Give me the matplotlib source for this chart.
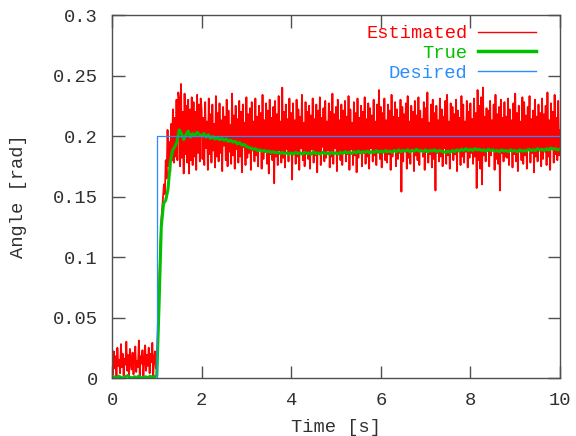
import numpy as np
import matplotlib
matplotlib.use("Agg")
import matplotlib.pyplot as plt

# ---------------- data ----------------
est_dt = 0.02   # s, sample spacing of the estimated series
true_dt = 0.05  # s, sample spacing of the true series

# Estimated angle, in milli-rad
estimated_mrad = [
    # 0.00 - 0.98
    12, 3, 22, 8, 18, 0, 25, 10, 15, 4, 28, 9, 20, 2, 16, 11, 30, 6, 19, 0,
    24, 13, 7, 21, 3, 17, 26, 5, 14, 9, 31, 2, 18, 12, 23, 0, 15, 27, 6, 19,
    10, 25, 4, 20, 13, 29, 1, 16, 22, 8,
    # 1.00 - 1.48
    10, 30, 60, 85, 110, 130, 140, 150, 160, 152, 180, 165, 205, 175, 195, 170,
    210, 180, 222, 178, 215, 183, 230, 180, 236,
    # 1.50 - 1.98
    230, 175, 243, 182, 220, 169, 235, 185, 225, 178, 230, 169, 222, 180, 232,
    176, 228, 183, 220, 172, 234, 186, 226, 179, 231,
    # 2.00 - 9.98
    222, 181, 215, 176, 228, 190, 212, 172, 231, 185, 218, 178, 226, 188, 210, 174, 233, 183, 219, 179,
    227, 186, 213, 171, 224, 192, 216, 180, 230, 175, 221, 187, 209, 177, 235, 184, 217, 173, 225, 189,
    214, 178, 229, 183, 220, 170, 226, 191, 211, 176, 232, 182, 218, 186, 223, 172, 228, 188, 212, 179,
    231, 184, 216, 175, 225, 190, 219, 173, 234, 181, 213, 187, 227, 177, 221, 169, 230, 185, 215, 180,
    224, 161, 229, 183, 218, 176, 233, 188, 212, 178, 240, 182, 220, 174, 226, 189, 214, 179, 231, 185,
    219, 164, 227, 186, 213, 177, 230, 183, 222, 172, 216, 190, 234, 180, 211, 175, 228, 187, 220, 181,
    225, 173, 217, 189, 231, 178, 214, 184, 226, 170, 221, 186, 232, 176, 215, 191, 223, 179, 229, 182,
    212, 188, 227, 174, 220, 183, 235, 177, 218, 190, 224, 171, 230, 185, 213, 180, 226, 176, 221, 187,
    229, 179, 216, 185, 233, 172, 222, 189, 211, 176, 228, 184, 219, 170, 231, 182, 215, 188, 225, 175,
    220, 186, 232, 177, 214, 183, 227, 173, 223, 190, 217, 179, 230, 184, 212, 176, 226, 188, 238, 181,
    224, 174, 219, 187, 231, 180, 213, 178, 226, 185, 221, 172, 234, 183, 216, 189, 228, 175, 222, 181,
    215, 186, 230, 154, 224, 179, 218, 188, 227, 173, 233, 182, 212, 177, 225, 190, 220, 171, 229, 184,
    217, 180, 232, 176, 221, 189, 214, 183, 228, 172, 223, 187, 236, 178, 211, 185, 226, 174, 230, 181,
    219, 155, 225, 186, 213, 179, 231, 183, 222, 175, 216, 190, 229, 177, 234, 184, 212, 173, 227, 188,
    224, 180, 218, 185, 230, 171, 221, 189, 215, 176, 233, 183, 226, 178, 212, 187, 229, 174, 220, 182,
    227, 186, 214, 177, 231, 183, 219, 157, 238, 180, 225, 173, 232, 160, 240, 184, 216, 179, 223, 188,
    221, 175, 229, 184, 213, 189, 226, 172, 234, 181, 218, 177, 224, 155, 230, 186, 215, 179, 228, 183,
    216, 182, 231, 176, 222, 188, 213, 174, 227, 185, 235, 179, 219, 171, 225, 187, 212, 180, 232, 177,
    228, 184, 217, 173, 224, 190, 233, 178, 214, 186, 221, 170, 230, 183, 216, 179, 226, 188, 219, 175,
    231, 181, 218, 187, 225, 176, 236, 183, 213, 172, 227, 189, 220, 178, 234, 185, 215, 180, 229, 184,
    # 10.00
    205,
]

# True angle, in 1e-4 rad
true_e4 = [
    5, 10, 0, 15, 5, 0, 10, 20, 5, 0, 10, 5, 15, 0, 5, 10, 0, 15, 5, 10,
    20, 600, 1250, 1440, 1470, 1560, 1780, 1880, 1910, 1950, 2050, 2020, 1970, 2010, 2040, 1990, 2020, 2000, 2030, 2010,
    2000, 2020, 1990, 2010, 1980, 1995, 1975, 1985, 1970, 1980, 1965, 1975, 1955, 1965, 1950, 1955, 1935, 1945, 1925, 1930,
    1915, 1905, 1900, 1890, 1895, 1880, 1885, 1875, 1880, 1870, 1875, 1865, 1870, 1860, 1865, 1855, 1865, 1855, 1860, 1850,
    1860, 1850, 1865, 1855, 1860, 1850, 1865, 1855, 1860, 1850, 1870, 1855, 1860, 1850, 1865, 1855, 1860, 1850, 1865, 1855,
    1860, 1850, 1865, 1855, 1870, 1860, 1865, 1855, 1870, 1860, 1875, 1860, 1870, 1865, 1875, 1860, 1870, 1865, 1880, 1865,
    1875, 1865, 1880, 1870, 1875, 1865, 1880, 1870, 1885, 1870, 1880, 1875, 1885, 1870, 1880, 1875, 1890, 1875, 1880, 1870,
    1885, 1870, 1880, 1875, 1885, 1870, 1880, 1875, 1870, 1865, 1875, 1865, 1880, 1870, 1885, 1875, 1890, 1880, 1895, 1880,
    1890, 1880, 1895, 1885, 1890, 1880, 1885, 1875, 1890, 1880, 1885, 1875, 1880, 1870, 1885, 1875, 1880, 1870, 1885, 1875,
    1880, 1870, 1885, 1875, 1880, 1875, 1890, 1880, 1885, 1880, 1895, 1885, 1890, 1880, 1895, 1885, 1900, 1890, 1895, 1885,
    1890,
]

# Desired angle: step at t = 1 s
desired_t = [0.0, 1.0, 10.0]
desired_v = [0.0, 0.2, 0.2]

series_labels = ["Estimated", "True", "Desired"]
x_ticks = [0, 2, 4, 6, 8, 10]
y_ticks = [0, 0.05, 0.1, 0.15, 0.2, 0.25, 0.3]
y_tick_labels = ["0", "0.05", "0.1", "0.15", "0.2", "0.25", "0.3"]

# ---------------- plot ----------------
plt.rcParams['font.family'] = ['Liberation Mono', 'DejaVu Sans Mono']
FS = 13.5
TXT = '#303030'

est = np.array(estimated_mrad) / 1000.0
t_est = np.arange(len(est)) * est_dt
tru = np.array(true_e4) / 10000.0
t_true = np.arange(len(tru)) * true_dt

fig = plt.figure(figsize=(5.76, 4.36), dpi=100)
ax = fig.add_axes([112 / 576, 58 / 436, 448 / 576, 363 / 436])

RED = '#ff0000'
GREEN = '#00c000'
BLUE = '#2a8cff'

ax.plot(t_est, est, color=RED, lw=1.3, label=series_labels[0])
ax.plot(t_true, tru, color=GREEN, lw=2.2, label=series_labels[1])
ax.plot(desired_t, desired_v, color=BLUE, lw=0.9, drawstyle='steps-post',
        label=series_labels[2])

ax.set_xlim(0, 10)
ax.set_ylim(0, 0.3)
ax.set_xticks(x_ticks)
ax.set_xticklabels([str(v) for v in x_ticks])
ax.set_yticks(y_ticks)
ax.set_yticklabels(y_tick_labels)

frame = '#505050'
for s in ax.spines.values():
    s.set_color(frame)
    s.set_linewidth(1.0)
ax.tick_params(direction='in', length=9, width=1.0, color=frame,
               top=True, right=True, labelsize=FS, labelcolor=TXT, pad=10)
ax.tick_params(axis='y', pad=10)

ax.set_xlabel("Time [s]", fontsize=FS, color=TXT, va='center')
ax.xaxis.set_label_coords(0.5, (378 - 427) / 363)
ax.set_ylabel("Angle [rad]", fontsize=FS, color=TXT, va='center')
ax.yaxis.set_label_coords((19 - 112) / 448, 0.5)

leg = ax.legend(loc='upper right', bbox_to_anchor=((536 - 112) / 448, (378 - 25) / 363),
                frameon=False, markerfirst=False, fontsize=FS, labelcolor='linecolor',
                handlelength=3.1, handletextpad=0.55, labelspacing=0.14,
                borderpad=0, borderaxespad=0)
lw_leg = [1.0, 2.5, 1.0]
for ln, w in zip(leg.get_lines(), lw_leg):
    ln.set_linewidth(w)

fig.savefig("out.png", dpi=100)
